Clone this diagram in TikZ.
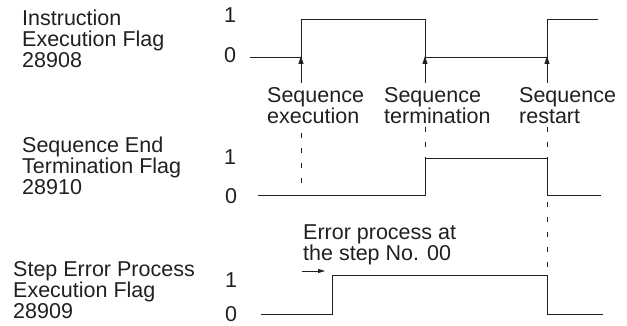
\documentclass[tikz,border=0pt]{standalone}
\usepackage{fontspec}
\setmainfont{Liberation Sans}
\usetikzlibrary{arrows.meta}
\definecolor{ink}{HTML}{231F20}
\begin{document}
\begin{tikzpicture}[x=1pt,y=-1pt,
  txt/.style={inner sep=0pt,text=ink,font=\fontsize{21.5}{21}\selectfont,align=left},
  lvl/.style={inner sep=0pt,text=ink,font=\fontsize{21.5}{21}\selectfont},
  wave/.style={draw=ink,line width=1pt,line join=miter},
  marker/.style={draw=ink,line width=0.9pt,-{Triangle[length=8pt,width=5pt]}},
  smallarr/.style={draw=ink,line width=0.9pt,-{Triangle[length=7pt,width=4pt]}},
  guide/.style={draw=ink,line width=0.9pt,dash pattern=on 5pt off 10pt}]
\useasboundingbox (0,0) rectangle (627,326);
% signal labels
\node[txt,anchor=west] (lab1) at (22,39) {Instruction\\Execution Flag\\28908};
\node[txt,anchor=west] (lab2) at (22,166) {Sequence End\\Termination Flag\\28910};
\node[txt,anchor=west] (lab3) at (13,290) {Step Error Process\\Execution Flag\\28909};
% level labels
\node[lvl] (h1) at (230,15) {1};
\node[lvl] (l1) at (230,55) {0};
\node[lvl] (h2) at (230,157) {1};
\node[lvl] (l2) at (231,196) {0};
\node[lvl] (h3) at (231,280) {1};
\node[lvl] (l3) at (231,314.5) {0};
% waveforms
\draw[wave] (250,58) coordinate (w1s) -- (301,58) coordinate (e1) -- (301,20) -- (425,20) -- (425,58) coordinate (e2) -- (547,58) coordinate (e3) -- (547,20) -- (598,20) coordinate (w1e);
\draw[wave] (258,196) coordinate (w2s) -- (425,196) -- (425,159) coordinate (t2) -- (547,159) coordinate (t3) -- (547,196) -- (601,196) coordinate (w2e);
\draw[wave] (261,314) coordinate (w3s) -- (332,314) -- (332,275) coordinate (r3) -- (547,275) coordinate (f3) -- (547,314) -- (603,314) coordinate (w3e);
% event labels
\node[txt,anchor=north west] (ev1) at (267,87) {Sequence\\execution};
\node[txt,anchor=north west] (ev2) at (384,87) {Sequence\\termination};
\node[txt,anchor=north west] (ev3) at (519,87) {Sequence\\restart};
\node[txt,anchor=north west] (err) at (303,225) {Error process at\\the step No. 00};
% marker arrows
\coordinate (a1) at (301,83);
\coordinate (a2) at (425,83);
\coordinate (a3) at (547,83);
\draw[marker] (a1) -- ([yshift=2pt]e1);
\draw[marker] (a2) -- ([yshift=2pt]e2);
\draw[marker] (a3) -- ([yshift=2pt]e3);
% dashed guides
\coordinate (d1s) at (301,133);
\coordinate (d1e) at (301,188);
\coordinate (d2s) at (425,127);
\coordinate (d3s) at (547,127);
\draw[guide] (d1s) -- (d1e);
\draw[guide] (d2s) -- (t2);
\draw[guide] (d3s) -- (f3);
% error arrow
\coordinate (ea) at (302,271);
\coordinate (eb) at (325,271);
\draw[smallarr] (ea) -- (eb);
\end{tikzpicture}
\end{document}
